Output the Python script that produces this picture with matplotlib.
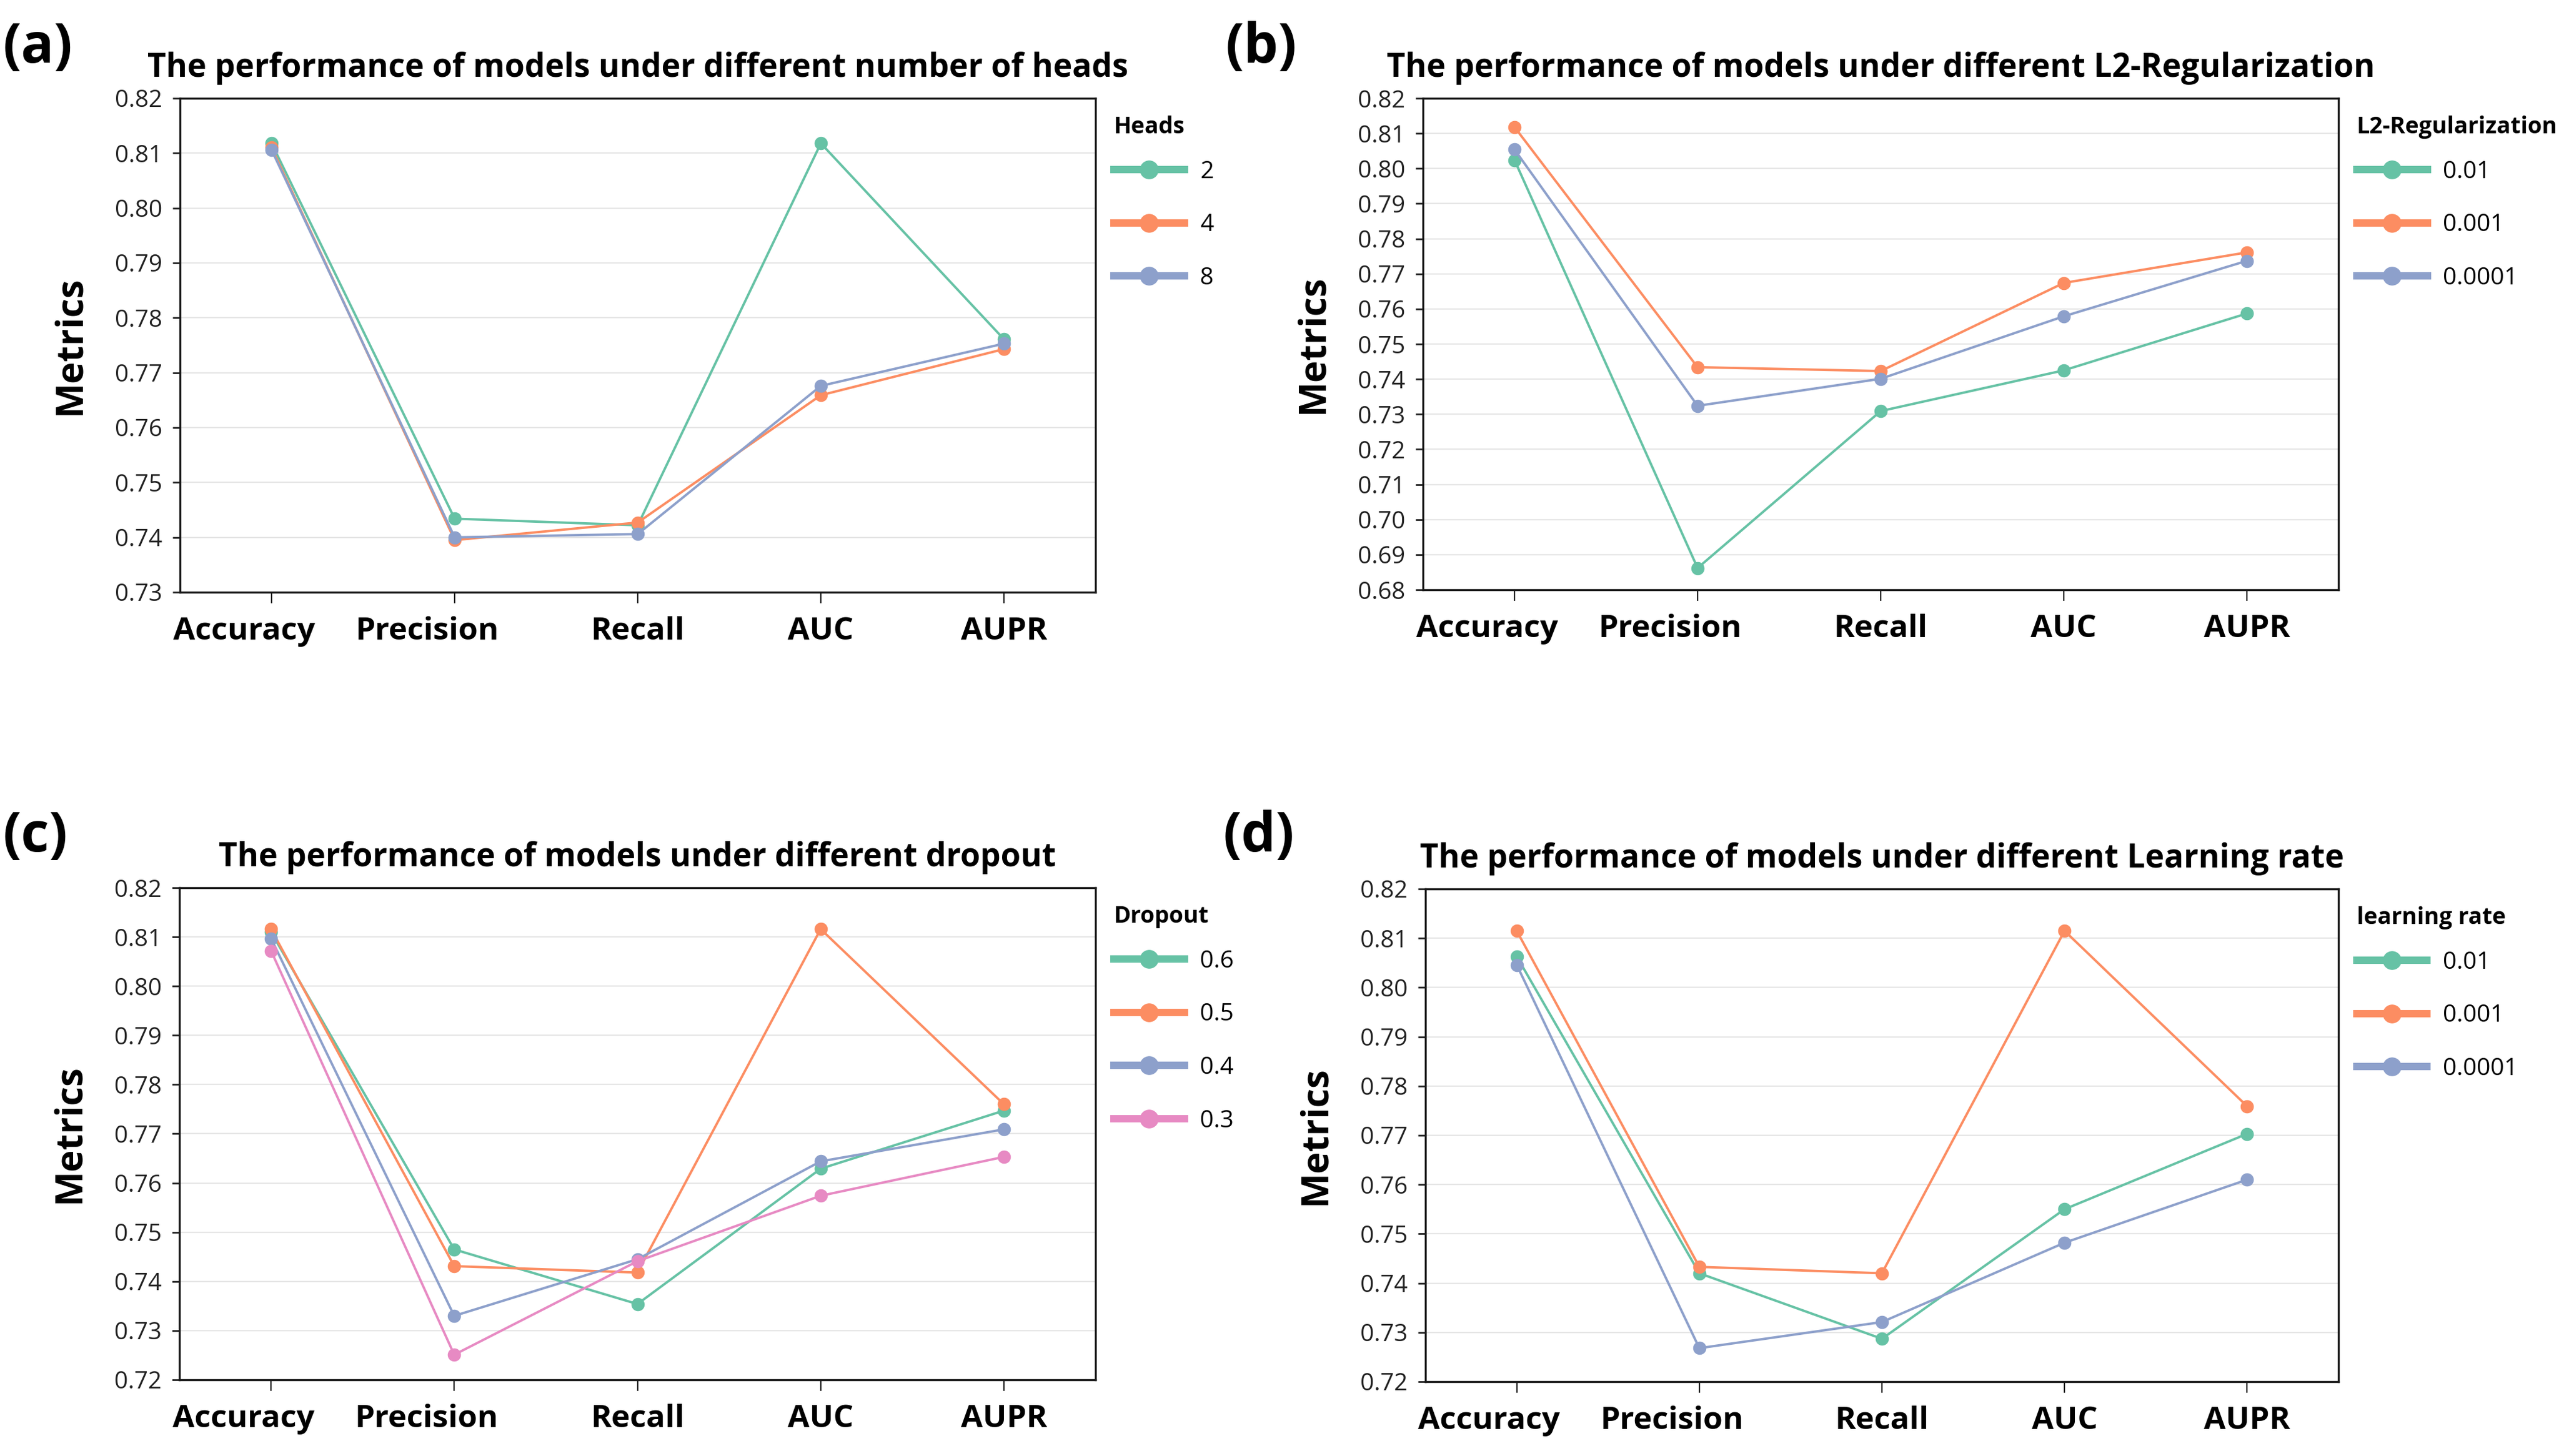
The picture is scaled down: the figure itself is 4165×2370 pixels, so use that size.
import matplotlib
matplotlib.use("Agg")
import matplotlib.pyplot as plt
from matplotlib.lines import Line2D
import matplotlib.transforms as mtransforms

plt.rcParams['font.family'] = ['Open Sans', 'DejaVu Sans']

metrics = ["Accuracy", "Precision", "Recall", "AUC", "AUPR"]

# (a) number of heads
heads_labels = ["2", "4", "8"]
heads_2 = [0.8118, 0.7434, 0.7422, 0.8118, 0.7761]
heads_4 = [0.8110, 0.7395, 0.7427, 0.7659, 0.7743]
heads_8 = [0.8106, 0.7400, 0.7406, 0.7676, 0.7753]

# (b) L2-Regularization
l2_labels = ["0.01", "0.001", "0.0001"]
l2_001 = [0.8024, 0.6862, 0.7309, 0.7425, 0.7587]
l2_0001 = [0.8118, 0.7434, 0.7423, 0.7674, 0.7761]
l2_00001 = [0.8054, 0.7324, 0.7401, 0.7579, 0.7737]

# (c) dropout
drop_labels = ["0.6", "0.5", "0.4", "0.3"]
drop_06 = [0.8110, 0.7465, 0.7354, 0.7629, 0.7747]
drop_05 = [0.8116, 0.7431, 0.7418, 0.8116, 0.7760]
drop_04 = [0.8097, 0.7330, 0.7445, 0.7644, 0.7709]
drop_03 = [0.8072, 0.7251, 0.7441, 0.7574, 0.7653]

# (d) learning rate
lr_labels = ["0.01", "0.001", "0.0001"]
lr_001 = [0.8063, 0.7420, 0.7287, 0.7550, 0.7703]
lr_0001 = [0.8115, 0.7433, 0.7420, 0.8115, 0.7759]
lr_00001 = [0.8046, 0.7268, 0.7321, 0.7482, 0.7610]

colors = ["#66c2a5", "#fc8d62", "#8da0cb", "#e78ac3"]

W, H = 4165, 2370
fig = plt.figure(figsize=(W / 100, H / 100), dpi=100)

def px_axes(l, t, r, b):
    return fig.add_axes([l / W, 1 - b / H, (r - l) / W, (b - t) / H])

panels = [
    dict(rect=(293, 160, 1783, 964), title="The performance of models under different number of heads",
         series=[heads_2, heads_4, heads_8], labels=heads_labels, legend_title="Heads",
         ylim=(0.73, 0.82), letter="(a)", lpos=(5, 34)),
    dict(rect=(2316, 160, 3806, 960), title="The performance of models under different L2-Regularization",
         series=[l2_001, l2_0001, l2_00001], labels=l2_labels, legend_title="L2-Regularization",
         ylim=(0.68, 0.82), letter="(b)", lpos=(1995, 34)),
    dict(rect=(292, 1445, 1783, 2246), title="The performance of models under different dropout",
         series=[drop_06, drop_05, drop_04, drop_03], labels=drop_labels, legend_title="Dropout",
         ylim=(0.72, 0.82), letter="(c)", lpos=(5, 1318)),
    dict(rect=(2320, 1447, 3806, 2249), title="The performance of models under different Learning rate",
         series=[lr_001, lr_0001, lr_00001], labels=lr_labels, legend_title="learning rate",
         ylim=(0.72, 0.82), letter="(d)", lpos=(1990, 1318)),
]

x = list(range(len(metrics)))
for p in panels:
    ax = px_axes(*p["rect"])
    for i, ys in enumerate(p["series"]):
        ax.plot(x, ys, color=colors[i], lw=2.8, marker='o', ms=14.5, zorder=3 + i)
    lo, hi = p["ylim"]
    n = int(round((hi - lo) / 0.01))
    yt = [round(lo + 0.01 * k, 2) for k in range(n + 1)]
    ax.set_ylim(lo, hi)
    ax.set_yticks(yt)
    ax.set_yticklabels([f"{v:.2f}" for v in yt])
    ax.set_xlim(-0.5, 4.5)
    ax.set_xticks(x)
    ax.set_xticklabels(metrics, fontsize=37, fontweight='bold')
    ax.tick_params(axis='y', labelsize=28, length=9, width=2, pad=12, color='#222222', labelcolor='#222222')
    ax.tick_params(axis='x', length=13, width=1.6, pad=15, color='#222222')
    ax.grid(axis='y', color='#e6e6e6', lw=1.6)
    ax.set_axisbelow(True)
    for s in ax.spines.values():
        s.set_linewidth(2.4)
        s.set_color('#1a1a1a')
    ax.set_ylabel("Metrics", fontsize=43.5, fontweight='bold', labelpad=30)
    ax.set_title(p["title"], fontsize=37.8, fontweight='bold', pad=25)
    # first two labels sit slightly left of their ticks
    for lab in ax.get_xticklabels()[:2]:
        lab.set_transform(lab.get_transform() + mtransforms.ScaledTranslation(-0.45, 0, fig.dpi_scale_trans))
    handles = [Line2D([], [], color=colors[i], lw=8.6, marker='o', ms=21) for i in range(len(p["labels"]))]
    leg = ax.legend(handles, p["labels"], title=p["legend_title"], loc='upper left',
                    bbox_to_anchor=(1.02, 0.965), frameon=False, fontsize=28,
                    title_fontproperties={'weight': 'bold', 'size': 27},
                    handlelength=2.95, handletextpad=0.65, labelspacing=1.25,
                    borderaxespad=0, borderpad=0, alignment='left')
    leg._legend_box.sep = 25
    fig.text(p["lpos"][0] / W, 1 - p["lpos"][1] / H, p["letter"], fontsize=64, fontweight='bold',
             ha='left', va='top')

fig.savefig("out.png", dpi=100)
